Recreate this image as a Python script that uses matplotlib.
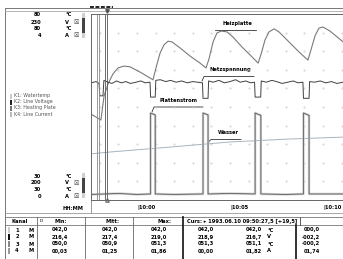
import matplotlib
matplotlib.use('Agg')
import matplotlib.pyplot as plt
import numpy as np

# channel scales (value at bottom, value at top of the plot)
scale_top = ['80', '230', '80', '4']
scale_bottom = ['30', '200', '30', '0']
scale_units = ['°C', 'V', '°C', 'A']
scale_box = [False, True, False, True]
legend_names = ['K1: Watertemp', 'K2: Line Voltage', 'K3: Heating Plate', 'K4: Line Current']

# time axis, minutes after 10:00
time_ticks = [0, 5, 10]
time_labels = ['10:00', '10:05', '10:10']
cursor_times = [-2.15, -2.02, -1.72, -1.61]

# Heizplatte (heating plate), °C, scale 30..80
heiz_t = [-2.47, -1.94, -1.77, -1.56, -1.29, -1.02, -0.70, -0.38, 0.16, 0.70, 0.86,
          1.02, 1.24, 1.45, 1.67, 1.88, 2.31, 2.85, 3.39, 3.71, 3.87, 4.09, 4.30,
          4.52, 4.84, 5.16, 5.65, 6.08, 6.51, 6.67, 6.88, 7.10, 7.37, 7.63, 8.17,
          8.71, 9.19, 9.35, 9.57, 9.78, 10.0, 10.38, 11.08]
heiz_c = [53.1, 51.5, 58.0, 61.2, 63.9, 65.5, 66.0, 65.8, 64.4, 62.8, 62.3,
          65.5, 69.5, 71.7, 72.7, 72.5, 70.9, 68.7, 66.8, 65.5, 67.9, 72.5, 74.9,
          75.4, 75.2, 73.8, 71.1, 69.0, 66.8, 69.2, 73.0, 75.2, 76.0, 75.2, 72.5,
          69.8, 67.6, 70.3, 74.1, 76.2, 76.5, 75.4, 72.5]

# Netzspannung (line voltage), V, scale 200..230
netz_t = [-2.47, -2.20, -2.04, -2.00, -1.83, -1.78, -1.55, -1.35, -1.10, -0.85, -0.60,
          -0.35, -0.05, 0.20, 0.45, 0.70, 0.73, 0.98, 1.01, 1.25, 1.55, 1.80, 2.10,
          2.40, 2.70, 3.00, 3.25, 3.52, 3.55, 3.82, 3.85, 4.10, 4.40, 4.70, 5.00,
          5.30, 5.55, 5.85, 6.10, 6.32, 6.35, 6.65, 6.68, 6.95, 7.25, 7.50, 7.80,
          8.10, 8.40, 8.65, 8.92, 8.95, 9.25, 9.28, 9.55, 9.85, 10.15, 10.45, 10.75, 11.08]
netz_v = [218.9, 219.1, 218.8, 216.8, 216.8, 219.3, 219.0, 218.8, 219.2, 218.9, 219.1,
          218.8, 219.0, 219.2, 218.9, 219.0, 216.6, 216.6, 219.3, 219.4, 219.1, 219.3, 219.0,
          219.2, 218.9, 219.1, 219.0, 218.9, 216.4, 216.4, 219.2, 219.0, 219.3, 218.9, 219.1,
          219.4, 219.0, 219.2, 218.9, 219.0, 216.6, 216.6, 219.2, 219.0, 219.3, 219.1, 218.8,
          219.0, 219.2, 218.9, 219.0, 216.4, 216.4, 219.1, 219.0, 219.2, 218.9, 219.1, 218.8, 219.0]

# Plattenstrom (plate current), A, scale 0..4
strom_t = [-2.47, -1.0, 0.0, 0.73, 0.73, 0.98, 0.98, 2.0, 3.55, 3.55, 3.82, 3.82, 5.0,
           6.35, 6.35, 6.66, 6.66, 8.0, 8.95, 8.95, 9.25, 9.25, 11.08]
strom_a = [0.12, 0.14, 0.12, 0.13, 1.87, 1.83, 0.13, 0.12, 0.13, 1.87, 1.83, 0.13, 0.14,
           0.13, 1.87, 1.82, 0.13, 0.12, 0.13, 1.87, 1.82, 0.13, 0.13]

# Wasser (water), °C, scale 30..80
wasser_t = [-2.47, -1.45, 1.24, 5.0, 8.23, 11.08]
wasser_c = [42.4, 42.9, 44.0, 45.6, 46.4, 46.9]

# table
row_ids = ['1', '2', '3', '4']
min_vals = ['042,0', '216,4', '050,0', '00,03']
mitt_vals = ['042,0', '217,4', '050,9', '01,25']
max_vals = ['042,0', '219,0', '051,3', '01,86']
curs1_vals = ['042,0', '218,9', '051,3', '00,00']
curs2_vals = ['042,0', '216,7', '051,1', '01,82']
diff_vals = ['000,0', '-002,2', '-000,2', '01,74']
cursor_text = 'Curs: \u25b8 1993.06.10 09:50:27,5 [+19,5]'


def frac(vals, lo, hi):
    return (np.array(vals) - lo) / (hi - lo)


FS = 3.7
plt.rcParams['font.family'] = ['DejaVu Sans']

fig = plt.figure(figsize=(3.43, 2.59), dpi=100)
cv = fig.add_axes([0, 0, 1, 1])
cv.set_xlim(0, 343)
cv.set_ylim(259, 0)
cv.axis('off')

# frame and top strip
cv.plot([5, 343], [8, 8], color='#777', lw=0.7)
cv.plot([5, 5], [8, 259], color='#777', lw=0.7)
cv.plot([5, 343], [11, 11], color='#aaa', lw=0.6)
cv.plot([90, 113], [6.5, 6.5], color='#222', lw=1.4, ls=(0, (2, 0.8)))
cv.plot([107], [11], marker='v', color='#555', ms=2.5)
cv.plot([107], [200], marker='^', color='#777', ms=2.5, mfc='white')

# scale labels on the left
for ys, labels in [([15, 22, 29, 35.5], scale_top), ([176, 183, 189.5, 196], scale_bottom)]:
    for y, lab, unit, box in zip(ys, labels, scale_units, scale_box):
        cv.text(41, y, lab, ha='right', va='center', fontsize=FS, fontweight='bold')
        cv.text(65, y, unit, ha='left', va='center', fontsize=FS, fontweight='bold')
        if box:
            cv.text(73, y, '\u2612', ha='left', va='center', fontsize=FS + 0.5, color='#333')
for y0, y1 in [(13, 38), (173, 198)]:
    cv.add_patch(plt.Rectangle((82, y0), 2.5, y1 - y0, color='#cfcfcf', lw=0))
    cv.add_patch(plt.Rectangle((82, y0 + 5), 2.5, y1 - y0 - 10, color='#444', lw=0))

# legend
sw_colors = ['#c8c8c8', '#222', '#777', '#bbb']
for i, (name, c) in enumerate(zip(legend_names, sw_colors)):
    y = 96 + 6 * i
    cv.add_patch(plt.Rectangle((9.5, y - 2.5), 2, 5, color=c, lw=0))
    cv.text(14, y, name, ha='left', va='center', fontsize=FS - 0.3, color='#555')

# time axis
cv.text(73, 208, 'HH:MM', ha='center', va='center', fontsize=FS, fontweight='bold')
cv.plot([91, 91], [200, 213], color='#888', lw=0.6)
for y, c in [(213, '#999'), (217, '#777'), (225, '#777')]:
    cv.plot([5, 343], [y, y], color=c, lw=0.6)

# table
cv.text(11, 221.5, 'Kanal', ha='left', va='center', fontsize=FS, fontweight='bold')
cv.text(40, 220.5, 'D', ha='left', va='center', fontsize=FS - 0.5)
cv.text(61, 221.5, 'Min:', ha='center', va='center', fontsize=FS, fontweight='bold')
cv.text(112, 221.5, 'Mitt:', ha='center', va='center', fontsize=FS, fontweight='bold')
cv.text(164, 221.5, 'Max:', ha='center', va='center', fontsize=FS, fontweight='bold')
cv.text(187, 221.5, cursor_text, ha='left', va='center', fontsize=FS, fontweight='bold')
cv.plot([300, 300], [217, 225], color='#444', lw=0.6)
for x, lw, c in [(37, 0.6, '#666'), (85, 0.6, '#666'), (133, 0.6, '#666'),
                 (183, 1.3, '#222'), (296, 1.3, '#222')]:
    cv.plot([x, x], [217 if x != 296 else 225, 259], color=c, lw=lw)

row_sw = ['#ccc', '#111', '#888', '#999']
for i in range(4):
    y = 230 + 7 * i
    cv.add_patch(plt.Rectangle((8, y - 3), 2, 6, color=row_sw[i], lw=0))
    cv.text(17, y, row_ids[i], ha='center', va='center', fontsize=FS, fontweight='bold')
    cv.text(31, y, 'M', ha='center', va='center', fontsize=FS, fontweight='bold')
    cv.text(60, y, min_vals[i], ha='center', va='center', fontsize=FS, fontweight='bold')
    cv.text(110, y, mitt_vals[i], ha='center', va='center', fontsize=FS, fontweight='bold')
    cv.text(159, y, max_vals[i], ha='center', va='center', fontsize=FS, fontweight='bold')
    cv.text(206, y, curs1_vals[i], ha='center', va='center', fontsize=FS, fontweight='bold')
    cv.text(262, y, curs2_vals[i], ha='right', va='center', fontsize=FS, fontweight='bold')
    cv.text(267, y, scale_units[i], ha='left', va='center', fontsize=FS, fontweight='bold')
    cv.text(320, y, diff_vals[i], ha='right', va='center', fontsize=FS, fontweight='bold')

# plot area
ax = fig.add_axes([91 / 343, 59 / 259, 252 / 343, 186 / 259])
ax.set_facecolor('none')
ax.set_xlim(-2.473, 11.075)
ax.set_ylim(0, 1)
ax.set_xticks([])
ax.set_yticks([])
for s in ['left', 'top', 'bottom']:
    ax.spines[s].set_color('#666')
    ax.spines[s].set_linewidth(0.7)
ax.spines['right'].set_visible(False)

gx, gy = np.meshgrid(np.arange(-2, 12), np.arange(0.1, 0.95, 0.1))
ax.plot(gx.ravel(), gy.ravel(), ls='none', marker='.', ms=0.8, color='#c8c8c8')

ax.plot(wasser_t, frac(wasser_c, 30, 80), color='#a8b4bd', lw=0.7)
ax.plot(heiz_t, frac(heiz_c, 30, 80), color='#7a7a7a', lw=0.8)
ax.plot(netz_t, frac(netz_v, 200, 230), color='#404040', lw=0.7)
ax.plot(strom_t, frac(strom_a, 0, 4), color='#cdcdcd', lw=1.7)
ax.plot(strom_t, frac(strom_a, 0, 4), color='#555', lw=0.55)
for i, t in enumerate(cursor_times):
    ax.axvline(t, color='#888' if i < 2 else '#555', lw=0.6)

for t, lab in zip(time_ticks, time_labels):
    ax.text(t, -0.043, '|' + lab, transform=ax.get_xaxis_transform(), ha='left',
            va='center', fontsize=FS, fontweight='bold', clip_on=False)

# channel labels with underline and leader
notes = [('Heizplatte', 237, 23, [(215, 29.5), (256, 29.5)]),
         ('Netzspannung', 230, 70, [(202, 81), (204, 76.5), (254, 76.5)]),
         ('Plattenstrom', 179, 101, [(152, 112), (154, 107), (203, 107)]),
         ('Wasser', 228, 133, [(208, 142.5), (211, 139.5), (241, 139.5)])]
for name, x, y, pts in notes:
    cv.text(x, y, name, ha='center', va='center', fontsize=FS, fontweight='bold', zorder=5)
    px, py = zip(*pts)
    cv.plot(px, py, color='#333', lw=0.6, zorder=5)

fig.savefig('out.png', dpi=100)
